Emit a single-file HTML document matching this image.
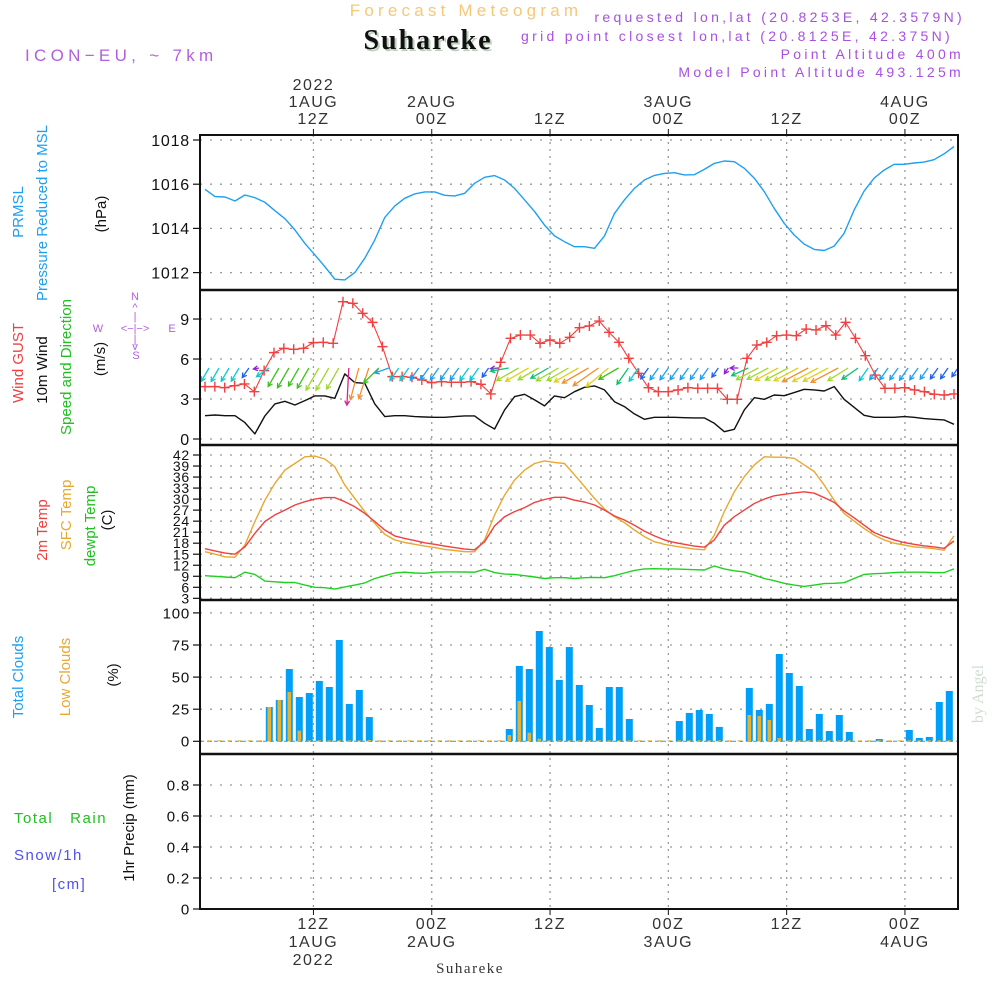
<!DOCTYPE html>
<html><head><meta charset="utf-8"><style>
html,body{margin:0;padding:0;background:#fff;}
svg{display:block;font-family:"Liberation Sans",sans-serif;}
</style></head><body>
<svg id="chart" width="1000" height="1000" viewBox="0 0 1000 1000" xmlns="http://www.w3.org/2000/svg">
<rect width="1000" height="1000" fill="#fff"/>
<text x="466" y="16" text-anchor="middle" font-size="17" letter-spacing="4.2" fill="#f5c878">Forecast Meteogram</text>
<text x="430" y="51" text-anchor="middle" font-family="Liberation Serif,serif" font-weight="bold" font-size="28" letter-spacing="2" fill="#bcd0bc">Suhareke</text>
<text x="428" y="49" text-anchor="middle" font-family="Liberation Serif,serif" font-weight="bold" font-size="28" letter-spacing="2" fill="#111">Suhareke</text>
<text x="25" y="61" font-size="17" letter-spacing="4.3" fill="#b060e0">ICON−EU, ~ 7km</text>
<g font-size="14" letter-spacing="3.3" fill="#a850e0" text-anchor="end">
<text x="965" y="22">requested lon,lat (20.8253E, 42.3579N)</text>
<text x="953" y="41">grid point closest lon,lat (20.8125E, 42.375N)</text>
<text x="964" y="59">Point Altitude 400m</text>
<text x="964" y="77">Model Point Altitude 493.125m</text>
</g>
<text transform="translate(983,694) rotate(-90)" text-anchor="middle" font-family="Liberation Serif,serif" font-size="16" fill="#d0dcd0">by Angel</text>
<g id="grid"></g>
<g id="marks"></g>
<g id="axes"></g>
<g id="labels" font-size="15" fill="#222"></g>
<g font-size="15">
<text transform="translate(23,212) rotate(-90)" text-anchor="middle" fill="#1ea0f0">PRMSL</text>
<text transform="translate(47,213) rotate(-90)" text-anchor="middle" fill="#1ea0f0">Pressure Reduced to MSL</text>
<text transform="translate(106,214) rotate(-90)" text-anchor="middle" fill="#111">(hPa)</text>
<text transform="translate(23,363) rotate(-90)" text-anchor="middle" fill="#f04040">Wind GUST</text>
<text transform="translate(47,370) rotate(-90)" text-anchor="middle" fill="#111">10m Wind</text>
<text transform="translate(71,367) rotate(-90)" text-anchor="middle" fill="#20c020">Speed and Direction</text>
<text transform="translate(105,359) rotate(-90)" text-anchor="middle" fill="#111">(m/s)</text>
<text transform="translate(47,530) rotate(-90)" text-anchor="middle" fill="#f04040">2m Temp</text>
<text transform="translate(71,515) rotate(-90)" text-anchor="middle" fill="#e8a830">SFC Temp</text>
<text transform="translate(95,526) rotate(-90)" text-anchor="middle" fill="#20c020">dewpt Temp</text>
<text transform="translate(112,520) rotate(-90)" text-anchor="middle" fill="#111">(C)</text>
<text transform="translate(23,677) rotate(-90)" text-anchor="middle" fill="#1ea0f0">Total Clouds</text>
<text transform="translate(70,677) rotate(-90)" text-anchor="middle" fill="#e8a830">Low Clouds</text>
<text transform="translate(118,675) rotate(-90)" text-anchor="middle" fill="#111">(%)</text>
<text transform="translate(134,828) rotate(-90)" text-anchor="middle" fill="#111">1hr Precip (mm)</text>
<text x="14" y="823" letter-spacing="1.5" fill="#20c020" xml:space="preserve">Total   Rain</text>
<text x="14" y="860" letter-spacing="1.5" fill="#5050f0">Snow/1h</text>
<text x="52" y="889" letter-spacing="1.5" fill="#5050f0">[cm]</text>
</g>
<g font-size="11" fill="#b060e0" text-anchor="middle">
<text x="135" y="300">N</text><text x="135" y="311">^</text><text x="135" y="320">|</text>
<text x="98" y="332">W</text><text x="135" y="332">&lt;−|−&gt;</text><text x="172" y="332">E</text>
<text x="135" y="343">|</text><text x="135" y="350">v</text><text x="136" y="359">S</text>
</g>
<text x="470" y="973" text-anchor="middle" font-family="Liberation Serif,serif" font-size="15" letter-spacing="1.5" fill="#333">Suhareke</text>
</svg>
<script>
const pressure=[1015.77,1015.44,1015.42,1015.24,1015.51,1015.39,1015.18,1014.8,1014.44,1013.93,1013.32,1012.8,1012.27,1011.7,1011.67,1012.0,1012.65,1013.48,1014.5,1015.01,1015.36,1015.56,1015.65,1015.65,1015.5,1015.47,1015.59,1016.04,1016.31,1016.39,1016.19,1015.81,1015.29,1014.76,1014.15,1013.66,1013.4,1013.17,1013.17,1013.1,1013.66,1014.68,1015.29,1015.81,1016.19,1016.4,1016.49,1016.52,1016.42,1016.43,1016.67,1016.94,1017.05,1017.02,1016.72,1016.27,1015.66,1014.91,1014.23,1013.7,1013.29,1013.05,1013.0,1013.2,1013.78,1014.83,1015.69,1016.27,1016.64,1016.9,1016.9,1016.96,1017.0,1017.11,1017.37,1017.7];
const wind10m=[1.75,1.8,1.75,1.75,1.23,0.38,1.73,2.63,2.83,2.55,2.88,3.23,3.23,3.05,4.88,4.23,4.18,2.63,1.68,1.75,1.75,1.68,1.65,1.63,1.63,1.68,1.73,1.73,1.18,0.75,2.18,3.18,3.35,2.93,2.48,3.23,3.1,3.55,3.88,3.98,3.68,2.8,2.43,1.88,1.48,1.63,1.63,1.63,1.6,1.58,1.58,1.18,0.55,0.73,2.18,3.1,2.98,3.3,3.25,3.48,3.73,3.68,3.6,3.93,2.98,2.38,1.78,1.63,1.63,1.63,1.68,1.63,1.53,1.48,1.43,1.1];
const windGust=[3.93,3.93,3.85,4.0,4.13,3.55,5.13,6.48,6.8,6.73,6.8,7.23,7.25,7.18,10.3,10.18,9.43,8.75,6.93,4.68,4.68,4.63,4.43,4.23,4.3,4.25,4.25,4.3,4.1,3.38,5.75,7.55,7.8,7.8,7.18,7.43,7.18,7.63,8.35,8.48,8.85,8.0,7.25,6.05,4.93,3.85,3.55,3.55,3.68,3.85,3.8,3.8,3.8,2.98,2.98,6.05,7.05,7.25,7.75,7.8,7.75,8.25,8.18,8.5,7.8,8.75,7.55,6.25,4.8,3.8,3.8,3.85,3.68,3.55,3.35,3.3,3.38];
const windDir=[30,30,30,30,35,80,55,30,30,30,30,30,30,30,3,15,18,45,70,35,35,35,35,35,35,35,35,35,35,85,80,60,60,60,60,60,60,60,60,55,50,60,35,35,35,35,35,35,35,35,35,35,35,90,65,62,62,62,62,62,62,62,62,62,58,55,35,35,35,35,35,35,35,35,35,35];
const temp2m=[16.5,15.9,15.3,15.0,17.0,20.7,23.9,25.7,27.0,28.4,29.3,30.0,30.4,30.4,29.3,27.9,26.1,23.9,21.6,20.0,19.3,18.7,18.1,17.7,17.2,16.8,16.4,16.2,18.4,22.7,25.2,26.6,27.7,29.1,29.9,30.5,30.5,29.7,29.2,28.4,27.0,25.4,24.3,22.9,21.3,20.0,18.9,18.2,17.7,17.2,16.9,18.9,22.9,25.2,27.0,28.8,30.0,30.9,31.3,31.7,32.0,31.6,30.4,29.1,26.8,24.9,22.9,20.9,19.8,18.9,18.2,17.7,17.3,17.0,16.6,18.6];
const tempSfc=[15.7,15.0,14.3,14.2,17.5,23.9,29.7,34.3,37.9,39.7,41.5,41.7,40.9,38.8,33.8,30.2,26.6,23.4,20.4,18.9,18.2,17.7,17.2,16.8,16.3,16.0,15.7,15.7,18.9,25.7,31.1,35.2,37.9,39.7,40.4,40.0,39.7,36.6,33.4,30.2,27.3,25.2,23.6,21.6,19.8,18.4,17.7,17.2,16.8,16.4,16.2,20.2,26.6,32.0,36.1,39.3,41.5,41.4,41.4,41.1,39.3,37.5,33.8,29.7,26.1,24.0,22.0,20.2,18.9,18.0,17.5,17.0,16.8,16.5,16.1,20.0];
const dewpt=[9.15,9.0,8.8,8.6,10.1,9.5,7.7,7.5,7.3,7.3,6.6,6.0,5.9,5.5,6.1,6.6,7.2,8.4,9.15,9.9,10.1,9.9,9.8,10.1,10.2,10.2,10.15,10.1,10.9,10.0,9.6,9.5,9.15,8.8,8.4,8.6,8.6,8.4,8.6,8.7,8.6,9.15,9.9,10.6,11.0,11.05,11.0,11.0,10.9,10.8,10.7,11.8,11.0,10.5,10.2,9.3,8.4,7.8,7.1,6.6,6.25,6.6,7.0,7.1,7.25,8.4,9.5,9.7,9.8,10.0,10.1,10.1,10.1,10.0,10.0,11.0];
const totalClouds=[0,0,0,0,0,0,26.7,32.2,56.3,34.5,37.6,47,42.3,78.9,29.1,40,18.9,0,0,0,0,0,0,0,0,0,0,0,0,0,9.6,58.7,56.3,85.9,73.4,47.8,73.4,43.9,28.3,10.4,42.3,42.3,17.4,0,0,0,0,15.8,22.1,24.4,21.3,11.2,0,0,41.5,24.4,29.1,68,53.2,43.1,9.6,21.3,8,20.5,7.3,0,0,1.8,0,0,8.8,2.6,3.4,30.6,39.2];
const lowClouds=[0,0,0,0,0,0,26.7,32.2,38.4,8.3,0.5,0,0,0,0,0,1,0,0,0,0,0,0,0,0,0,0,0,0,0,4.9,31.4,6.7,2,0,0,0,0,0,0,0,0,0,0,0,0,0,0,0,0,0,0,0,0,20.5,19.7,16.6,2.6,0,0,0,0,0,0,0,0,0,0,0,0,0,0,0,0,0];
const precip=[0,0,0,0,0,0,0,0,0,0,0,0,0,0,0,0,0,0,0,0,0,0,0,0,0,0,0,0,0,0,0,0,0,0,0,0,0,0,0,0,0,0,0,0,0,0,0,0,0,0,0,0,0,0,0,0,0,0,0,0,0,0,0,0,0,0,0,0,0,0,0,0,0,0,0];
const pressTicks=[1012,1014,1016,1018];
const windTicks=[0,3,6,9];
const tempTicks=[3,6,9,12,15,18,21,24,27,30,33,36,39,42];
const cloudTicks=[0,25,50,75,100];
const precipTicks=[0,0.2,0.4,0.6,0.8];
const timeTopLabels=[["2022","1AUG","12Z"],["2AUG","00Z"],["12Z"],["3AUG","00Z"],["12Z"],["4AUG","00Z"]];
const timeBottomLabels=[["12Z","1AUG","2022"],["00Z","2AUG"],["12Z"],["00Z","3AUG"],["12Z"],["00Z","4AUG"]];
const timeHours=[11,23,35,47,59,71];

const NS="http://www.w3.org/2000/svg";
const L=200,R=958;
const xSeries=n=>(i=>205+i*(749/(n-1)));
const xBar=k=>209.3+k*10;
const xHour=h=>205+h*(118.3/12);
const yP=v=>140+(1018-v)*22.1;
const yW=v=>439-v*13.33;
const yT=v=>455+(42-v)*3.675;
const yC=v=>741.3-v*1.284;
const yR=v=>909-v*155;
function mk(tag,attrs,parent){const e=document.createElementNS(NS,tag);for(const k in attrs)e.setAttribute(k,attrs[k]);parent.appendChild(e);return e;}
const grid=document.getElementById('grid'),marks=document.getElementById('marks'),axes=document.getElementById('axes'),labels=document.getElementById('labels');

const defs=mk('defs',{},document.getElementById('chart'));
const cp=mk('clipPath',{id:'plotclip'},defs);mk('rect',{x:L,y:135,width:R-L,height:774},cp);
marks.setAttribute('clip-path','url(#plotclip)');

timeHours.forEach((h,j)=>{
  const x=xHour(h);
  const g=mk('line',{x1:x,x2:x,y1:135,y2:909,stroke:'#999','stroke-width':1.3,'stroke-dasharray':'2,5'},grid);
  
  
  mk('line',{x1:x,x2:x,y1:129,y2:135,stroke:'#111'},axes);
  mk('line',{x1:x,x2:x,y1:909,y2:915,stroke:'#111'},axes);
  timeTopLabels[j].forEach((s,k)=>{const n=timeTopLabels[j].length;const t=mk('text',{x:x,y:124-(n-1-k)*17,'text-anchor':'middle','font-size':16,'letter-spacing':1.5,fill:'#333'},labels);t.textContent=s;
    
    });
  timeBottomLabels[j].forEach((s,k)=>{const t=mk('text',{x:x,y:929+k*18,'text-anchor':'middle','font-size':16,'letter-spacing':1.5,fill:'#333'},labels);t.textContent=s;
    
    });
});
function yAxis(ticks,fy,fmt,fs,name){
  ticks.forEach(v=>{const y=fy(v);
    const g=mk('line',{x1:L,x2:R,y1:y,y2:y,stroke:'#999','stroke-width':1.3,'stroke-dasharray':'2,8'},grid);
    
    
    mk('line',{x1:193,x2:L,y1:y,y2:y,stroke:'#111','stroke-width':1.2},axes);
    const t=mk('text',{x:190,y:y+fs*0.36,'text-anchor':'end','font-size':fs,'letter-spacing':0.8,fill:'#111'},labels);t.textContent=fmt(v);
    
    
  });
}
yAxis(pressTicks,yP,v=>String(v),16,'pressure');
yAxis(windTicks,yW,v=>String(v),16,'wind');
yAxis(tempTicks,yT,v=>String(v),14,'temp');
yAxis(cloudTicks,yC,v=>String(v),15,'cloud');
yAxis(precipTicks,yR,v=>v===0?'0':v.toFixed(1),15,'precip');
const fr=mk('rect',{x:L,y:135,width:R-L,height:774,fill:'none',stroke:'#111','stroke-width':2},axes);


[290,445,600,754].forEach(y=>{const l=mk('line',{x1:L-1,x2:R+1,y1:y,y2:y,stroke:'#111','stroke-width':2.5},axes);
  
  });

function line(arr,fy,color,name,w){
  const fx=xSeries(arr.length);
  const d=arr.map((v,i)=>(i?'L':'M')+fx(i).toFixed(1)+','+fy(v).toFixed(1)).join('');
  const p=mk('path',{d:d,fill:'none',stroke:color,'stroke-width':w||1.4,'stroke-linejoin':'round'},marks);
  
  
}
line(pressure,yP,'#1ea0f0','pressure-line');
line(wind10m,yW,'#111','wind-10m-line');
line(windGust,yW,'#f04040','wind-gust-line',1.1);
const xg=xSeries(windGust.length);
windGust.forEach((v,i)=>{const x=xg(i),y=yW(v);
  const g=mk('path',{d:`M${x-5},${y}H${x+5}M${x},${y-5}V${y+5}`,stroke:'#f04040','stroke-width':1.4},marks);
  
  });
function spdColor(s){
  if(s<0.9)return '#9020d0';if(s<1.5)return '#2060f0';if(s<1.7)return '#1ea0f0';if(s<2)return '#10c8d0';
  if(s<2.5)return '#10c070';if(s<2.9)return '#40c020';if(s<3.3)return '#a0d830';if(s<3.7)return '#e0d020';
  if(s<4.5)return '#f09030';return '#e02090';
}
const xw=xSeries(wind10m.length);
wind10m.forEach((s,i)=>{
  const d=windDir[i]*Math.PI/180,len=7*s+3;
  const ux=-Math.sin(d),uy=Math.cos(d);
  const x0=xw(i)+4,y0=368,x1=x0+ux*len,y1=y0+uy*len;
  const a1=Math.atan2(-uy,-ux);
  const h=5,sp=0.5;
  const p=`M${x0.toFixed(1)},${y0}L${x1.toFixed(1)},${y1.toFixed(1)}M${(x1+h*Math.cos(a1+sp)).toFixed(1)},${(y1+h*Math.sin(a1+sp)).toFixed(1)}L${x1.toFixed(1)},${y1.toFixed(1)}L${(x1+h*Math.cos(a1-sp)).toFixed(1)},${(y1+h*Math.sin(a1-sp)).toFixed(1)}`;
  const e=mk('path',{d:p,fill:'none',stroke:spdColor(s),'stroke-width':1.3},marks);
  
  
});
line(tempSfc,yT,'#e8a830','sfc-temp-line');
line(temp2m,yT,'#f04040','temp-2m-line');
line(dewpt,yT,'#20d020','dewpt-line');
const base=yC(0);
mk('line',{x1:L,x2:R,y1:base,y2:base,stroke:'#1ea0f0','stroke-width':1,'stroke-dasharray':'4,3'},marks);
totalClouds.forEach((v,k)=>{if(v<=0)return;const x=xBar(k),y=yC(v);
  const b=mk('rect',{x:x-3.5,y:y,width:7,height:base-y,fill:'#00a0f8'},marks);
  
  });
lowClouds.forEach((v,k)=>{const x=xBar(k),y=yC(v);
  const b=mk('rect',{x:x-1.8,y:Math.min(y,base-1),width:3.6,height:Math.max(base-y,1),fill:'#e8b030'},marks);
  
  });
const pb=yR(0);
precip.forEach((v,k)=>{const x=xBar(k),y=yR(v);
  const b=mk('rect',{x:x-3.5,y:Math.min(y,pb-1),width:7,height:Math.max(pb-y,1),fill:'#20c020'},marks);
  
  });
</script>
</body></html>
